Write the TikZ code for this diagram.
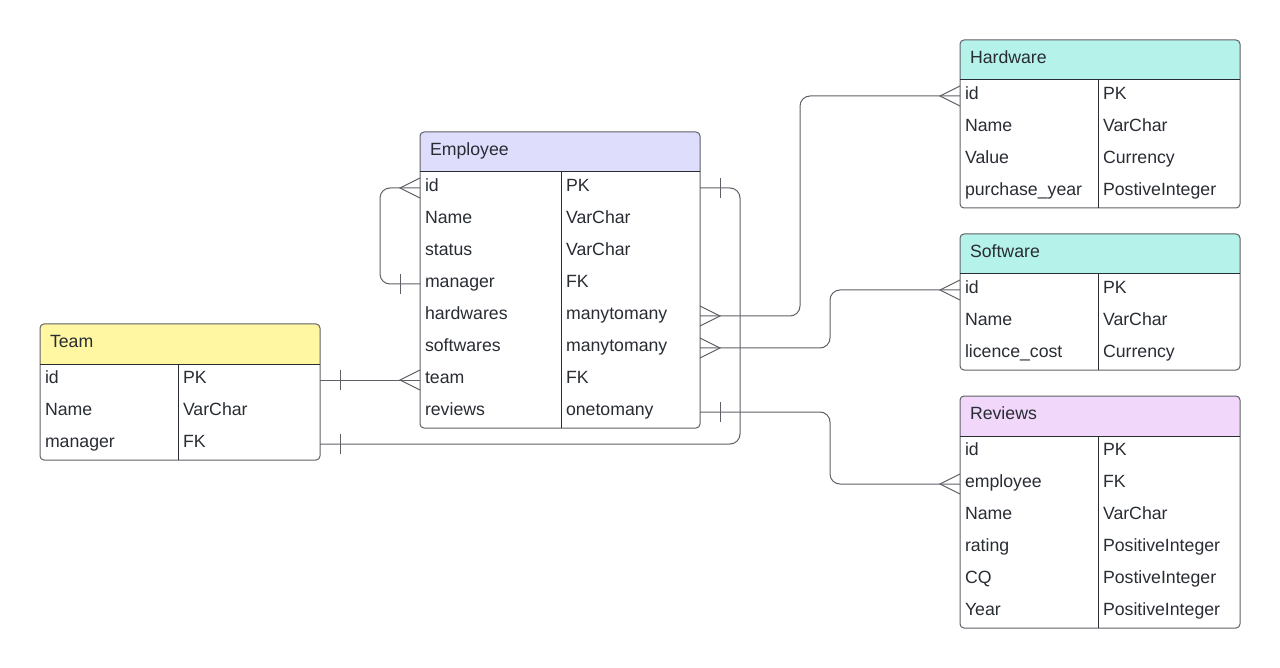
\documentclass[tikz,border=0pt]{standalone}
\usepackage{fontspec}
\setmainfont{Liberation Sans}
\usetikzlibrary{calc}
\definecolor{ink}{HTML}{282C33}
\definecolor{edgegray}{HTML}{5F6067}
\definecolor{empcol}{HTML}{DEDEFC}
\definecolor{teamcol}{HTML}{FFF7A1}
\definecolor{mintcol}{HTML}{B5F3EA}
\definecolor{revcol}{HTML}{F1D7FA}

% [#1 divider] #2 name, #3 x, #4 y, #5 header colour, #6 title, #7 rows
\newcommand{\erTable}[7][138]{%
  \pgfmathsetmacro\fieldw{#1-10}
  \pgfmathsetmacro\typew{270-#1}
  \fill[#5, rounded corners=4pt] (#3,{#4+40}) |- ({#3+280},#4) -- ({#3+280},{#4+40});
  \begin{scope}[local bounding box=#2-box]
  \node[tabhead, anchor=north west] (#2) at (#3,#4) {#6};
  \foreach \fname/\ftype [count=\i] in {#7} {
    \node[fieldcell, text width=\fieldw pt, anchor=north west] (#2-f\i) at (#3,{#4+40+32*(\i-1)}) {\fname};
    \node[typecell, text width=\typew pt, anchor=north west] (#2-t\i) at (#2-f\i.north east) {\ftype};
  }
  \end{scope}
  \draw[tabline, rounded corners=4pt] (#2-box.north west) rectangle (#2-box.south east);
  \draw[divline] (#2.south west) -- (#2.south east);
  \draw[divline] (#2-f1.north east) -- (#2-f1.north east |- #2-box.south);
}

\begin{document}
\begin{tikzpicture}[x=1pt,y=-1pt]
\tikzstyle{cellfont} = [font=\fontsize{17.7pt}{21pt}\selectfont, text=ink, outer sep=0pt, inner ysep=0pt, text height=12.6pt, text depth=5.6pt, align=left];
\tikzstyle{tabhead} = [cellfont, minimum width=280pt, minimum height=40pt, inner xsep=10pt, text width=260pt];
\tikzstyle{fieldcell} = [cellfont, minimum height=32pt, inner xsep=5pt];
\tikzstyle{typecell} = [cellfont, minimum height=32pt, inner xsep=5pt];
\tikzstyle{tabline} = [draw=edgegray, line width=1pt];
\tikzstyle{divline} = [draw=ink, line width=1pt];
\tikzstyle{link} = [draw=edgegray, line width=1pt, rounded corners=10pt];
\tikzstyle{endmark} = [draw=edgegray, line width=1pt];
\tikzset{
  pics/crow/.style={code={\draw[endmark] (0,-10) -- (-20,0) -- (0,10);}},
  pics/onebar/.style={code={\draw[endmark] (-20,-10) -- (-20,10);}},
}

\erTable[141]{Emp}{420}{132}{empcol}{Employee}{id/PK, Name/VarChar, status/VarChar, manager/FK, hardwares/manytomany, softwares/manytomany, team/FK, reviews/onetomany}
\erTable{Team}{40}{324}{teamcol}{Team}{id/PK, Name/VarChar, manager/FK}
\erTable{Hw}{960}{40}{mintcol}{Hardware}{id/PK, Name/VarChar, Value/Currency, purchase\_year/PostiveInteger}
\erTable{Sw}{960}{234}{mintcol}{Software}{id/PK, Name/VarChar, licence\_cost/Currency}
\erTable{Rev}{960}{396}{revcol}{Reviews}{id/PK, employee/FK, Name/VarChar, rating/PositiveInteger, CQ/PostiveInteger, Year/PositiveInteger}

% relations
\draw[link] (Emp-f1.west) -- ++(-40,0) |- (Emp-f4.west);
\draw[link] (Emp-t5.east) -- ++(100,0) |- (Hw-f1.west);
\draw[link] (Emp-t6.east) -- ++(130,0) |- (Sw-f1.west);
\draw[link] (Emp-t8.east) -- ++(130,0) |- (Rev-f2.west);
\draw[link] (Team-t1.east) -- (Emp-f7.west);
\draw[link] (Team-t3.east) -- ++(420,0) |- (Emp-t1.east);

% crow's feet and bars
\foreach \p in {Emp-f1, Hw-f1, Sw-f1, Rev-f2, Emp-f7}
  \pic at (\p.west) {crow};
\foreach \p in {Emp-t5, Emp-t6}
  \pic[rotate=180] at (\p.east) {crow};
\pic at (Emp-f4.west) {onebar};
\foreach \p in {Emp-t8, Team-t1, Team-t3, Emp-t1}
  \pic[rotate=180] at (\p.east) {onebar};

\useasboundingbox (0,0) rectangle (1280,668);
\end{tikzpicture}
\end{document}
